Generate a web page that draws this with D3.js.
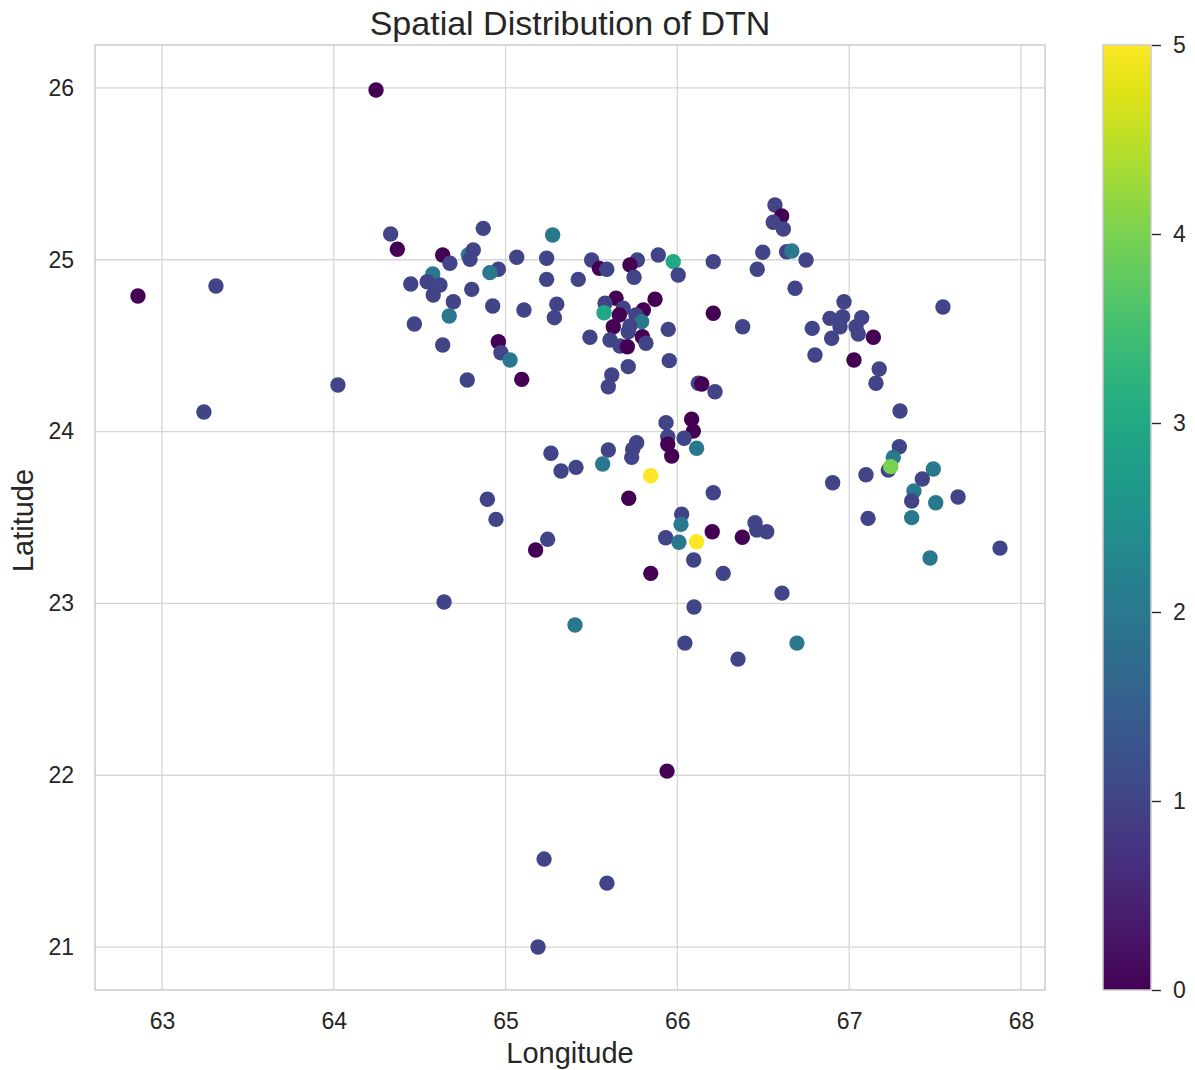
<!DOCTYPE html>
<html>
<head>
<meta charset="utf-8">
<script src="https://cdn.jsdelivr.net/npm/d3@7"></script>
<style>
  body { margin: 0; background: #fff; }
  text { font-family: "Liberation Sans", Arial, sans-serif; fill: #262626; }
</style>
</head>
<body>
<div class="chart"></div>
<script>
// station positions and DTN values
const lon = [
  64.246, 62.860, 63.314, 64.024, 63.244, 64.642, 65.940, 65.224, 65.590, 65.189,
  66.609, 66.696, 66.353, 66.044, 66.097, 65.404, 67.878, 67.471, 67.546, 67.634,
  64.331, 64.870, 64.370, 64.634, 65.274, 64.783, 64.812, 64.793, 64.676, 65.065,
  65.239, 64.958, 64.909, 64.576, 64.448, 64.544, 64.618, 64.579, 64.803, 65.239,
  65.423, 64.696, 64.925, 65.107, 65.298, 65.284, 64.672, 64.469, 65.491, 64.634,
  64.958, 64.973, 65.026, 64.777, 65.094,
  66.568, 66.607, 66.558, 66.617, 66.497, 66.636, 66.666, 66.685, 66.465, 66.209,
  65.976, 66.005, 65.889, 65.767, 65.724, 65.501, 65.546, 65.589, 65.748, 65.870,
  65.643, 65.579, 65.573, 65.685, 65.802, 65.662, 65.759, 65.792, 65.627, 65.724,
  65.714, 65.796, 65.817, 65.608, 65.666, 65.709, 65.947, 66.209, 66.380, 65.714,
  65.618, 65.598, 65.953, 66.122, 66.142, 66.219,
  66.749, 66.970, 66.888, 66.962, 67.073, 66.947, 67.040, 67.053, 66.898, 66.785,
  67.141, 66.801, 67.028, 67.175, 67.156,
  65.934, 66.083, 66.093, 65.944, 66.039, 65.944, 65.967, 66.112, 65.264, 65.598,
  65.763, 65.740, 65.734, 65.323, 65.410, 65.565, 65.845, 65.717, 66.209, 64.894,
  64.944, 66.025, 66.021, 65.932, 66.009, 66.112, 66.203, 66.378, 66.452, 66.462,
  66.520, 65.245, 65.175, 66.095, 66.267, 65.845,
  67.296, 67.292, 67.228, 67.257, 67.242, 67.098, 66.904, 67.490, 67.426, 67.377,
  67.364, 67.504, 67.110, 67.364
];
const lat = [
  25.988, 24.789, 24.847, 24.271, 24.114, 23.008, 22.024, 21.512, 21.372, 21.000,
  23.060, 22.769, 22.676, 22.769, 22.979, 22.874, 23.322, 23.264, 24.725, 23.619,
  25.150, 25.183, 25.061, 25.028, 25.144, 25.028, 25.057, 25.003, 24.980, 25.015,
  25.009, 24.945, 24.925, 24.917, 24.859, 24.872, 24.853, 24.795, 24.828, 24.886,
  24.886, 24.756, 24.731, 24.708, 24.741, 24.663, 24.673, 24.626, 24.549, 24.504,
  24.523, 24.459, 24.417, 24.300, 24.304,
  25.319, 25.255, 25.218, 25.179, 25.044, 25.047, 25.051, 24.834, 24.945, 24.989,
  24.989, 24.911, 25.028, 24.999, 24.970, 24.999, 24.950, 24.945, 24.898, 24.770,
  24.776, 24.747, 24.692, 24.718, 24.708, 24.679, 24.679, 24.640, 24.610, 24.615,
  24.581, 24.552, 24.514, 24.533, 24.498, 24.494, 24.595, 24.689, 24.610, 24.378,
  24.329, 24.261, 24.413, 24.281, 24.277, 24.232,
  24.999, 24.756, 24.659, 24.669, 24.663, 24.610, 24.610, 24.568, 24.543, 24.601,
  24.549, 24.446, 24.417, 24.364, 24.281,
  24.052, 24.072, 24.003, 23.970, 23.961, 23.926, 23.858, 23.903, 23.874, 23.893,
  23.935, 23.897, 23.850, 23.771, 23.792, 23.811, 23.743, 23.612, 23.644, 23.606,
  23.489, 23.519, 23.460, 23.382, 23.356, 23.359, 23.417, 23.385, 23.470, 23.427,
  23.417, 23.373, 23.311, 23.253, 23.175, 23.175,
  24.120, 23.912, 23.776, 23.850, 23.796, 23.749, 23.702, 23.782, 23.724, 23.654,
  23.596, 23.586, 23.495, 23.499
];
const dtn = [
  0, 0, 1, 1, 1, 1, 0, 1, 1, 1,
  1, 2, 1, 1, 1, 2, 1, 2, 1, 1,
  1, 1, 0, 0, 2, 2, 1, 1, 1, 1,
  1, 1, 2, 2, 1, 1, 1, 1, 1, 1,
  1, 1, 1, 1, 1, 1, 2, 1, 1, 1,
  0, 1, 2, 1, 0,
  1, 0, 1, 1, 1, 1, 2, 1, 1, 1,
  3, 1, 1, 1, 0, 1, 0, 1, 1, 0,
  0, 1, 3, 1, 0, 0, 1, 2, 0, 1,
  1, 0, 1, 1, 1, 0, 1, 0, 1, 1,
  1, 1, 1, 1, 0, 1,
  1, 1, 1, 1, 1, 1, 1, 1, 1, 1,
  0, 1, 0, 1, 1,
  1, 0, 0, 1, 1, 0, 0, 2, 1, 1,
  1, 1, 1, 1, 1, 2, 5, 0, 1, 1,
  1, 1, 2, 1, 2, 5, 0, 0, 1, 1,
  1, 1, 0, 1, 1, 0,
  1, 1, 1, 2, 4, 1, 1, 2, 1, 2,
  1, 2, 1, 2
];
const xTicks = [63, 64, 65, 66, 67, 68];
const yTicks = [21, 22, 23, 24, 25, 26];
const cbTicks = [0, 1, 2, 3, 4, 5];

const width = 1195, height = 1070;
const plot = { left: 95, right: 1045, top: 45, bottom: 990 };
const cb = { left: 1103, right: 1151 };

var svg = d3.select(".chart").append("svg")
        .attr("width", width)
        .attr("height", height);

var x = d3.scaleLinear().domain([62.61, 68.14]).range([plot.left, plot.right]);
var y = d3.scaleLinear().domain([20.75, 26.25]).range([plot.bottom, plot.top]);
var color = d3.scaleSequential(d3.interpolateViridis).domain([0, 5]);

// grid
var grid = svg.append("g").attr("stroke", "#d6d6d6").attr("stroke-width", 1.3);
grid.selectAll(".gx").data(xTicks).enter().append("line")
        .attr("x1", d => x(d)).attr("x2", d => x(d))
        .attr("y1", plot.top).attr("y2", plot.bottom);
grid.selectAll(".gy").data(yTicks).enter().append("line")
        .attr("x1", plot.left).attr("x2", plot.right)
        .attr("y1", d => y(d)).attr("y2", d => y(d));

// axes labels (no tick marks, seaborn whitegrid)
var xAxis = svg.append("g")
        .attr("transform", "translate(0," + plot.bottom + ")")
        .call(d3.axisBottom(x).tickValues(xTicks).tickFormat(d3.format("d")).tickSize(0).tickPadding(23));
var yAxis = svg.append("g")
        .attr("transform", "translate(" + plot.left + ",0)")
        .call(d3.axisLeft(y).tickValues(yTicks).tickFormat(d3.format("d")).tickSize(0).tickPadding(21));
[xAxis, yAxis].forEach(a => {
    a.select(".domain").remove();
    a.selectAll("text").style("font-size", "23px").attr("fill", "#262626")
            .style("font-family", "'Liberation Sans', Arial, sans-serif");
});

// points
svg.append("g").selectAll("circle")
        .data(d3.range(lon.length))
        .enter().append("circle")
        .attr("cx", i => x(lon[i]))
        .attr("cy", i => y(lat[i]))
        .attr("r", 7.7)
        .attr("fill", i => color(dtn[i]));

// plot frame
svg.append("rect")
        .attr("x", plot.left).attr("y", plot.top)
        .attr("width", plot.right - plot.left).attr("height", plot.bottom - plot.top)
        .attr("fill", "none").attr("stroke", "#cccccc").attr("stroke-width", 1.5);

// title and axis titles
svg.append("text").attr("x", (plot.left + plot.right) / 2).attr("y", 35)
        .attr("text-anchor", "middle").style("font-size", "34px")
        .text("Spatial Distribution of DTN");
svg.append("text").attr("x", (plot.left + plot.right) / 2).attr("y", 1063)
        .attr("text-anchor", "middle").style("font-size", "29px")
        .text("Longitude");
svg.append("text")
        .attr("transform", "translate(33," + ((plot.top + plot.bottom) / 2 + 3) + ") rotate(-90)")
        .attr("text-anchor", "middle").style("font-size", "29px")
        .text("Latitude");

// colorbar
var defs = svg.append("defs");
var grad = defs.append("linearGradient").attr("id", "viridis")
        .attr("x1", "0").attr("y1", "1").attr("x2", "0").attr("y2", "0");
grad.selectAll("stop").data(d3.range(0, 1.0001, 0.05)).enter().append("stop")
        .attr("offset", d => d)
        .attr("stop-color", d => d3.interpolateViridis(d));

var cy = d3.scaleLinear().domain([0, 5]).range([plot.bottom, plot.top]);
svg.append("rect")
        .attr("x", cb.left).attr("y", cy(5))
        .attr("width", cb.right - cb.left).attr("height", cy(0) - cy(5))
        .attr("fill", "url(#viridis)").attr("stroke", "#cccccc").attr("stroke-width", 1.5);

var cAxis = svg.append("g")
        .attr("transform", "translate(" + (cb.right + 1) + ",0)")
        .call(d3.axisRight(cy).tickValues(cbTicks).tickFormat(d3.format("d")).tickSize(9).tickPadding(12));
cAxis.select(".domain").remove();
cAxis.selectAll("line").attr("stroke", "#262626").attr("stroke-width", 1.4);
cAxis.selectAll("text").style("font-size", "23px").attr("fill", "#262626")
        .style("font-family", "'Liberation Sans', Arial, sans-serif");
</script>
</body>
</html>
